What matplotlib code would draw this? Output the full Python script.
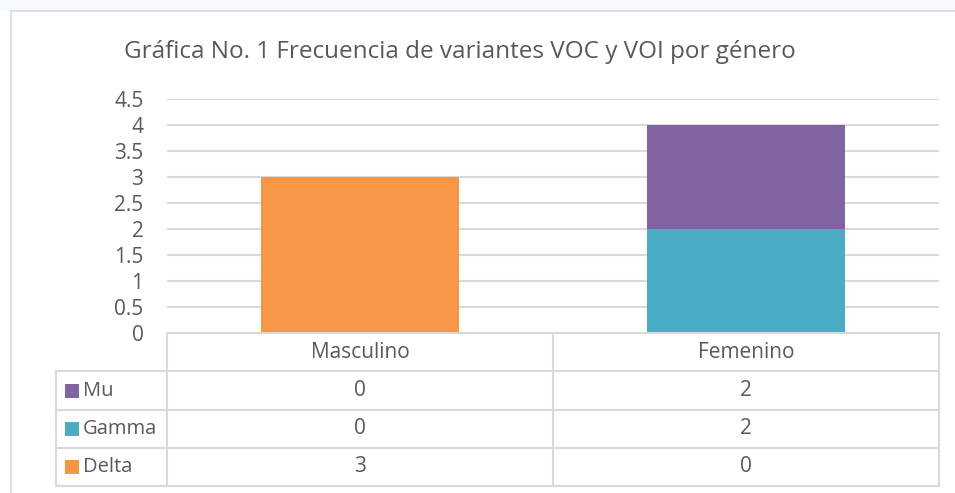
import matplotlib
matplotlib.use('Agg')
import matplotlib.pyplot as plt
from matplotlib.patches import Rectangle
from matplotlib.lines import Line2D

categories = ['Masculino', 'Femenino']
series_names = ['Mu', 'Gamma', 'Delta']
delta = [3, 0]
gamma = [0, 2]
mu = [0, 2]
title = 'Gráfica No. 1 Frecuencia de variantes VOC y VOI por género'

colors = {'Delta': '#F79646', 'Gamma': '#4BACC6', 'Mu': '#8064A2'}
text_color = '#595959'
grid_color = '#D9D9D9'

W, H = 955, 493
plt.rcParams['font.family'] = ['Open Sans', 'DejaVu Sans']
fig = plt.figure(figsize=(W / 100, H / 100), dpi=100)


def fx(x):
    return x / W


def fy(y):
    return 1 - y / H


def hline(x0, x1, y, lw=1.5, color=grid_color):
    fig.add_artist(Line2D([fx(x0), fx(x1)], [fy(y), fy(y)], color=color, lw=lw))


def vline(x, y0, y1, lw=1.5, color=grid_color):
    fig.add_artist(Line2D([fx(x), fx(x)], [fy(y0), fy(y1)], color=color, lw=lw))


# faint strip above the chart (page background)
fig.add_artist(Rectangle((0, fy(11)), 1, 11 / H, transform=fig.transFigure,
                         color='#F6F9FD', lw=0))
# chart border
hline(11, W, 11, lw=1.2)
vline(11, 11, H, lw=1.2)

# plot area
px0, px1, py_top, py0 = 167, 939, 99, 333
ax = fig.add_axes([fx(px0), fy(py0), fx(px1 - px0), (py0 - py_top) / H])
x = list(range(len(categories)))
bottom = [0, 0]
for name, vals in [('Delta', delta), ('Gamma', gamma), ('Mu', mu)]:
    ax.bar(x, vals, width=0.515, bottom=bottom, color=colors[name], zorder=2)
    bottom = [b + v for b, v in zip(bottom, vals)]
ax.set_xlim(-0.5, 1.5)
ax.set_ylim(0, 4.5)
ax.set_yticks([0, 0.5, 1, 1.5, 2, 2.5, 3, 3.5, 4, 4.5])
ax.set_yticklabels(['0', '0.5', '1', '1.5', '2', '2.5', '3', '3.5', '4', '4.5'])
ax.yaxis.grid(True, color=grid_color, lw=1.5, zorder=0)
ax.set_xticks([])
for s in ax.spines.values():
    s.set_visible(False)
ax.tick_params(axis='y', length=0, pad=17, labelsize=15, labelcolor=text_color)

fig.text(fx(460), fy(52), title, ha='center', va='center', fontsize=17.5,
         color=text_color)

# data table
col_edges = [167, 553, 939]
row_edges = [333, 371, 410, 448, 486]
label_x0 = 56
hline(col_edges[0], col_edges[-1], row_edges[0])
for yy in row_edges[1:]:
    hline(label_x0, col_edges[-1], yy)
vline(col_edges[0], row_edges[0], row_edges[-1])
vline(label_x0, row_edges[1], row_edges[-1])
for xx in col_edges[1:]:
    vline(xx, row_edges[0], row_edges[-1])

for i, cat in enumerate(categories):
    cx = (col_edges[i] + col_edges[i + 1]) / 2
    fig.text(fx(cx), fy((row_edges[0] + row_edges[1]) / 2), cat, ha='center',
             va='center', fontsize=15, color=text_color)

table_vals = {'Mu': mu, 'Gamma': gamma, 'Delta': delta}
for r, name in enumerate(series_names):
    cy = (row_edges[r + 1] + row_edges[r + 2]) / 2
    fig.add_artist(Rectangle((fx(65), fy(cy + 7)), 14 / W, 14 / H,
                             transform=fig.transFigure, color=colors[name], lw=0))
    fig.text(fx(83), fy(cy), name, ha='left', va='center', fontsize=14.5,
             color=text_color)
    for i, v in enumerate(table_vals[name]):
        cx = (col_edges[i] + col_edges[i + 1]) / 2
        fig.text(fx(cx), fy(cy), str(v), ha='center', va='center', fontsize=15,
                 color=text_color)

fig.savefig('out.png', dpi=100)
